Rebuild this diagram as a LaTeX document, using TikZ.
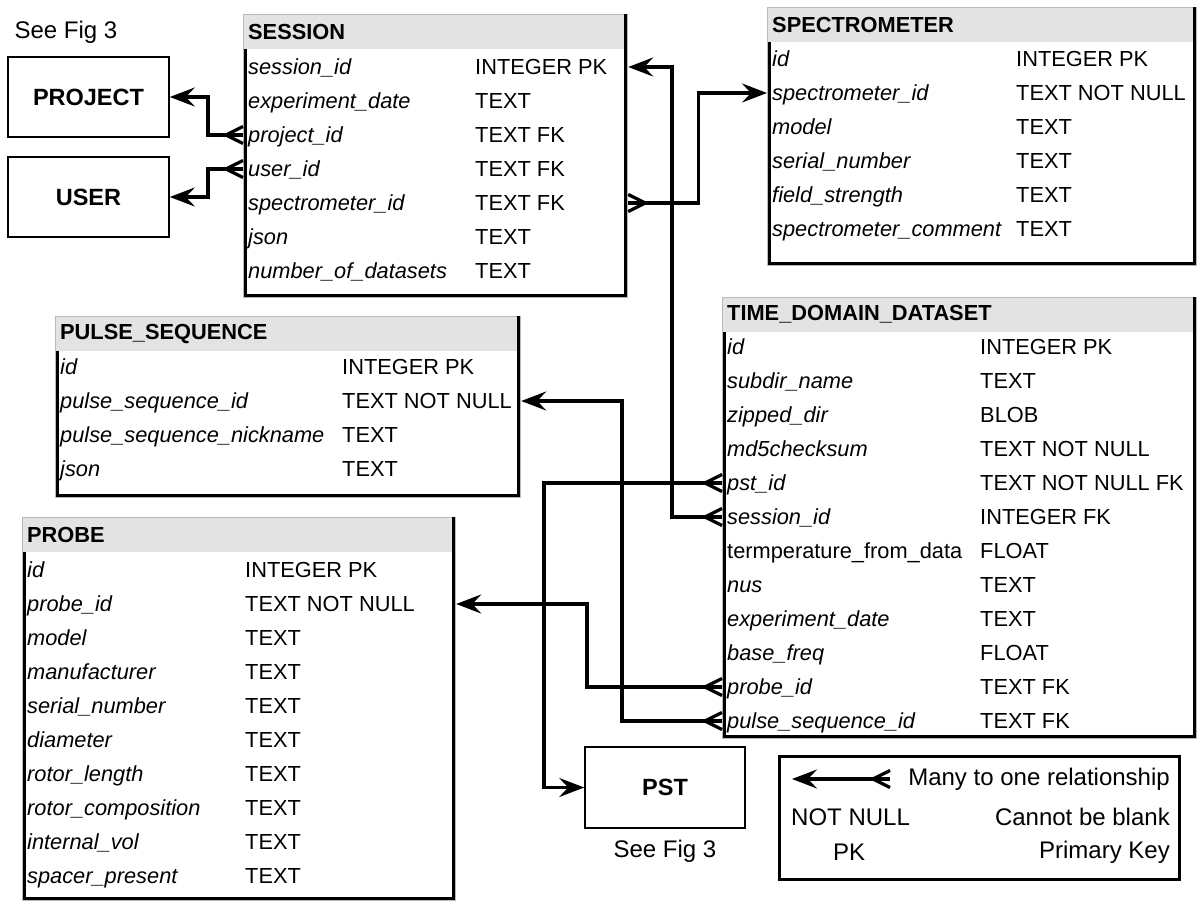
\documentclass[tikz,border=0pt]{standalone}
\usepackage{fontspec}
\setmainfont{Liberation Sans}
\usetikzlibrary{positioning,arrows.meta,calc}

% crow's foot end for the "many" side
\pgfdeclarearrow{
  name=ERmany,
  parameters={\the\pgfarrowlength,\the\pgfarrowwidth},
  setup code={
    \pgfarrowssettipend{0pt}
    \pgfarrowssetlineend{0pt}
    \pgfarrowssetbackend{-\pgfarrowlength}
    \pgfarrowsupperhullpoint{0pt}{.5\pgfarrowwidth}
    \pgfarrowsupperhullpoint{-\pgfarrowlength}{0pt}
    \pgfarrowssavethe\pgfarrowlength
    \pgfarrowssavethe\pgfarrowwidth
  },
  drawing code={
    \pgfsetroundjoin
    \pgfpathmoveto{\pgfqpoint{0pt}{.5\pgfarrowwidth}}
    \pgfpathlineto{\pgfqpoint{-\pgfarrowlength}{0pt}}
    \pgfpathlineto{\pgfqpoint{0pt}{-.5\pgfarrowwidth}}
    \pgfusepathqstroke
  },
  defaults={length=17pt, width=17pt}
}

\begin{document}
\begin{tikzpicture}[
    x=1pt, y=-1pt,
    every node/.style={font=\fontsize{21.8}{26}\selectfont},
    thead/.style={fill=gray!22, anchor=north west, minimum height=35pt, inner xsep=5pt, inner ysep=0pt, text width=#1, align=left, font=\fontsize{21.8}{26}\selectfont\bfseries},
    tbl/.style={draw=gray!55, line width=1.2pt, anchor=north west, inner sep=0pt},
    tblline/.style={line width=3.2pt},
    fld/.style={anchor=west, inner sep=0pt, text height=16pt, text depth=1pt, font=\fontsize{21.8}{26}\selectfont\itshape},
    typ/.style={anchor=west, inner sep=0pt, text height=16pt, text depth=1pt},
    ent/.style={draw, line width=1.6pt, minimum width=161pt, minimum height=80pt, font=\fontsize{23.5}{28}\selectfont\bfseries},
    lbl/.style={inner sep=0pt, font=\fontsize{24}{28}\selectfont},
    legbox/.style={draw, line width=3.2pt, anchor=north west},
    rel/.style={line width=3.2pt, {ERmany}-{Stealth[length=25pt,width=19pt,inset=9pt]}}
  ]
  \useasboundingbox (0,0) rectangle (1199,909);

  % project / user
  \node[lbl] (fig-a) at (66,32) {See Fig 3};
  \node[ent] (proj) at (88.5,97) {PROJECT};
  \node[ent] (user) at (88.5,197) {USER};

  % session
  \node[thead=374pt] (sesh) at (243,14) {SESSION};
  \node[tbl, minimum width=384pt, minimum height=283pt] (ses) at (sesh.north west) {};
  \foreach \f/\t [count=\i] in {session\_id/INTEGER PK, experiment\_date/TEXT, project\_id/TEXT FK,
      user\_id/TEXT FK, spectrometer\_id/TEXT FK, json/TEXT, number\_of\_datasets/TEXT}
    {\node[fld] (ses-\i) at (248,{67+34*(\i-1)}) {\f};
     \node[typ] at (475,{67+34*(\i-1)}) {\t};}
  \draw[tblline] ([xshift=2.5pt]sesh.south west) |- ([shift={(-2.5pt,2.5pt)}]ses.south east) -- ([xshift=-2.5pt]ses.north east);

  % spectrometer
  \node[thead=419pt] (spech) at (767,7) {SPECTROMETER};
  \node[tbl, minimum width=429pt, minimum height=258pt] (spec) at (spech.north west) {};
  \foreach \f/\t [count=\i] in {id/INTEGER PK, spectrometer\_id/TEXT NOT NULL, model/TEXT,
      serial\_number/TEXT, field\_strength/TEXT, spectrometer\_comment/TEXT}
    {\node[fld] (spec-\i) at (772,{59+34*(\i-1)}) {\f};
     \node[typ] at (1016,{59+34*(\i-1)}) {\t};}
  \draw[tblline] ([xshift=2.5pt]spech.south west) |- ([shift={(-2.5pt,2.5pt)}]spec.south east) -- ([xshift=-2.5pt]spec.north east);

  % pulse sequence
  \node[thead=455pt] (psh) at (55,316) {PULSE\_SEQUENCE};
  \node[tbl, minimum width=465pt, minimum height=181pt] (ps) at (psh.north west) {};
  \foreach \f/\t [count=\i] in {id/INTEGER PK, pulse\_sequence\_id/TEXT NOT NULL,
      pulse\_sequence\_nickname/TEXT, json/TEXT}
    {\node[fld] (ps-\i) at (60,{367+34*(\i-1)}) {\f};
     \node[typ] at (342,{367+34*(\i-1)}) {\t};}
  \draw[tblline] ([xshift=2.5pt]psh.south west) |- ([shift={(-2.5pt,2.5pt)}]ps.south east) -- ([xshift=-2.5pt]ps.north east);

  % time domain dataset
  \node[thead=464pt] (tddh) at (722,297) {TIME\_DOMAIN\_DATASET};
  \node[tbl, minimum width=474pt, minimum height=441pt] (tdd) at (tddh.north west) {};
  \foreach \f/\t [count=\i] in {id/INTEGER PK, subdir\_name/TEXT, zipped\_dir/BLOB,
      md5checksum/TEXT NOT NULL, pst\_id/TEXT NOT NULL FK, session\_id/INTEGER FK,
      {\upshape termperature\_from\_data}/FLOAT, nus/TEXT, experiment\_date/TEXT,
      base\_freq/FLOAT, probe\_id/TEXT FK, pulse\_sequence\_id/TEXT FK}
    {\node[fld] (tdd-\i) at (727,{347+34*(\i-1)}) {\f};
     \node[typ] at (980,{347+34*(\i-1)}) {\t};}
  \draw[tblline] ([xshift=2.5pt]tddh.south west) |- ([shift={(-2.5pt,2.5pt)}]tdd.south east) -- ([xshift=-2.5pt]tdd.north east);

  % probe
  \node[thead=423pt] (probeh) at (22,517) {PROBE};
  \node[tbl, minimum width=433pt, minimum height=383pt] (probe) at (probeh.north west) {};
  \foreach \f/\t [count=\i] in {id/INTEGER PK, probe\_id/TEXT NOT NULL, model/TEXT,
      manufacturer/TEXT, serial\_number/TEXT, diameter/TEXT, rotor\_length/TEXT,
      rotor\_composition/TEXT, internal\_vol/TEXT, spacer\_present/TEXT}
    {\node[fld] (probe-\i) at (27,{570+34*(\i-1)}) {\f};
     \node[typ] at (245,{570+34*(\i-1)}) {\t};}
  \draw[tblline] ([xshift=2.5pt]probeh.south west) |- ([shift={(-2.5pt,2.5pt)}]probe.south east) -- ([xshift=-2.5pt]probe.north east);

  % pst
  \node[ent, minimum width=160pt, minimum height=81pt] (pst) at (665,787.5) {PST};
  \node[lbl, below=11pt of pst] (fig-b) {See Fig 3};

  % legend
  \node[legbox, minimum width=400pt, minimum height=123pt] (leg) at (778,755) {};
  \node[lbl, anchor=east] (leg-1) at (1170,779) {Many to one relationship};
  \node[lbl, anchor=west] (leg-nn) at (791,817) {NOT NULL};
  \node[lbl, anchor=east] (leg-2) at (1170,817) {Cannot be blank};
  \node[lbl] (leg-pk) at (849,852) {PK};
  \node[lbl, anchor=east] (leg-3) at (1170,852) {Primary Key};
  \coordinate (leg-a) at (792,779);
  \coordinate (leg-b) at (890,779);

  % --- relations ---
  \draw[rel] (ses.west |- ses-3) -- ++(-35,0) |- (proj.east);
  \draw[rel] (ses.west |- ses-4) -- ++(-35,0) |- (user.east);
  \draw[rel] (ses.east |- ses-5) -- ++(70,0) |- (spec.west |- spec-2);
  \draw[rel] (tdd.west |- tdd-6) -- ++(-50,0) |- (ses.east |- ses-1);
  \draw[rel] (tdd.west |- tdd-5) -- ++(-178,0) |- (pst.west);
  \draw[rel] (tdd.west |- tdd-11) -- ++(-135,0) |- (probe.east |- probe-2);
  \draw[rel] (tdd.west |- tdd-12) -- ++(-100,0) |- (ps.east |- ps-2);
  \draw[rel] (leg-b) -- (leg-a);

\end{tikzpicture}
\end{document}
